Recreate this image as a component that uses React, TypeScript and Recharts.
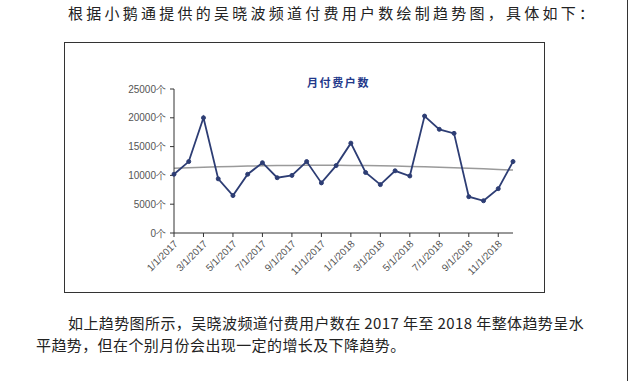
import { LineChart, Line, XAxis, YAxis } from "recharts";

const months = [
  "1/1/2017", "2/1/2017", "3/1/2017", "4/1/2017", "5/1/2017", "6/1/2017",
  "7/1/2017", "8/1/2017", "9/1/2017", "10/1/2017", "11/1/2017", "12/1/2017",
  "1/1/2018", "2/1/2018", "3/1/2018", "4/1/2018", "5/1/2018", "6/1/2018",
  "7/1/2018", "8/1/2018", "9/1/2018", "10/1/2018", "11/1/2018", "12/1/2018",
];
const paidUsers = [
  10200, 12400, 20000, 9400, 6500, 10200, 12200, 9600, 10000, 12400, 8700, 11700,
  15600, 10500, 8400, 10800, 9900, 20300, 18000, 17300, 6300, 5600, 7700, 12400,
];
// grey trend line
const trend = [
  11250, 11340, 11420, 11500, 11560, 11620, 11670, 11710, 11740, 11760, 11770, 11760,
  11740, 11710, 11670, 11620, 11560, 11490, 11410, 11330, 11240, 11140, 11030, 10920,
];
const yTicks = [0, 5000, 10000, 15000, 20000, 25000];

const data = months.map((m, i) => ({ month: m, users: paidUsers[i], trend: trend[i] }));

const cjk = '"Noto Sans CJK SC", "Liberation Sans", sans-serif';
const latin = '"Liberation Sans", Arial, sans-serif';

function DateTick({ x, y, payload }: any) {
  return (
    <g transform={`translate(${x + 2},${y + 3})`}>
      <text x={0} y={0} dy="0.35em" textAnchor="end" transform="rotate(-45)"
        fontSize={10} fill="#555" fontFamily={latin}>
        {payload.value}
      </text>
    </g>
  );
}

export default function App() {
  return (
    <div style={{ position: "fixed", left: 0, top: 0, width: 628, height: 381, background: "#fff", overflow: "hidden" }}>
      <div style={{ position: "absolute", left: 68, top: 5, fontFamily: cjk, fontSize: 15, lineHeight: "15px", letterSpacing: 3.25, color: "#222", whiteSpace: "nowrap" }}>
        根据小鹅通提供的吴晓波频道付费用户数绘制趋势图，具体如下：
      </div>

      <div style={{ position: "absolute", left: 64, top: 42, width: 479, height: 249, border: "1px solid #333" }} />
      <div style={{ position: "absolute", left: 627, top: 0, width: 1, height: 381, background: "#333" }} />

      <div style={{ position: "absolute", left: 307, top: 76, fontFamily: cjk, fontSize: 11, lineHeight: "12px", letterSpacing: 1.6, fontWeight: 700, color: "#22388a", whiteSpace: "nowrap" }}>
        月付费户数
      </div>

      <div style={{ position: "absolute", left: 0, top: 0 }}>
        <LineChart width={628} height={381} data={data}
          margin={{ top: 89, right: 115, left: 120, bottom: 108 }}>
          <XAxis dataKey="month" interval={1} tickSize={4} tickMargin={2}
            stroke="#333" tick={<DateTick />} height={40} />
          <YAxis domain={[0, 25000]} ticks={yTicks} width={54} tickSize={4} tickMargin={4}
            stroke="#333" tickFormatter={(v: number) => `${v}个`}
            tick={{ fontSize: 10, fill: "#555", fontFamily: latin }} />
          <Line dataKey="trend" stroke="#9a9a9a" strokeWidth={1.5} dot={false} isAnimationActive={false} />
          <Line dataKey="users" stroke="#2d3d74" strokeWidth={1.8}
            dot={{ r: 2, fill: "#2d3d74", stroke: "#2d3d74", strokeWidth: 1 }} isAnimationActive={false} />
        </LineChart>
      </div>

      <div style={{ position: "absolute", left: 68, top: 315, fontFamily: cjk, fontSize: 15, lineHeight: "15px", letterSpacing: 0.4, color: "#222", whiteSpace: "nowrap" }}>
        如上趋势图所示，吴晓波频道付费用户数在 2017 年至 2018 年整体趋势呈水
      </div>
      <div style={{ position: "absolute", left: 36, top: 337, fontFamily: cjk, fontSize: 15, lineHeight: "15px", letterSpacing: 0.4, color: "#222", whiteSpace: "nowrap" }}>
        平趋势，但在个别月份会出现一定的增长及下降趋势。
      </div>
    </div>
  );
}
